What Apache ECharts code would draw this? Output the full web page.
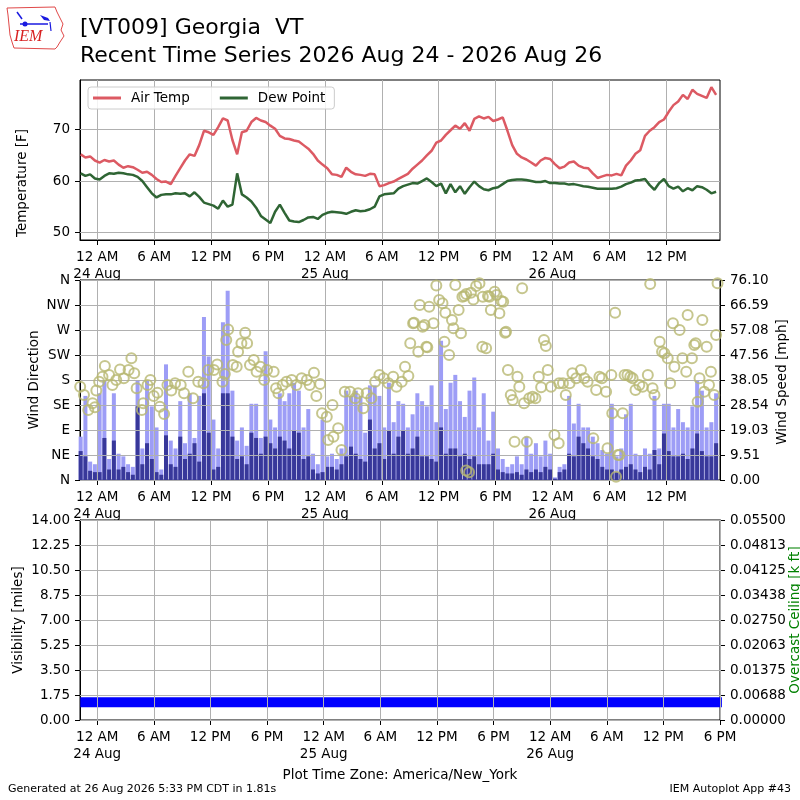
<!DOCTYPE html>
<html><head><meta charset="utf-8">
<script src="https://cdn.jsdelivr.net/npm/echarts@6/dist/echarts.min.js"></script>
<style>html,body{margin:0;padding:0;background:#fff}#c{width:800px;height:800px}</style>
</head><body><div id="c"></div>
<script>
// Observation grid: hours since 00:00 24 Aug (America/New_York), every 30 minutes
const startHour = -1.75;
const stepHour = 0.5;

const airTemp = [65.2,64.6,64.8,64.0,63.6,64.1,63.8,64.0,63.2,62.6,
62.9,62.7,62.2,61.6,61.8,61.2,60.4,59.8,59.9,59.4,
61.0,62.5,64.0,65.2,64.9,67.0,69.8,69.5,69.0,70.5,
72.2,71.8,68.0,65.2,69.5,69.8,71.5,72.3,71.8,71.5,
70.8,70.2,68.8,68.3,68.2,67.9,67.7,67.0,66.3,65.3,
64.0,63.2,62.5,61.3,61.2,60.8,62.6,61.8,61.3,61.2,
61.0,61.4,61.3,59.0,59.2,59.6,59.9,60.4,60.9,61.4,
62.4,63.2,64.0,65.0,65.9,67.5,67.9,69.0,69.9,70.8,
70.2,71.3,69.8,72.1,72.6,72.2,72.5,71.7,72.0,72.4,
69.8,67.0,65.3,64.6,64.2,63.6,63.0,64.0,64.5,64.3,
63.3,62.5,62.8,63.6,63.8,63.0,62.6,62.5,61.5,60.6,
60.9,61.2,61.1,61.4,61.1,63.0,64.0,65.3,66.0,68.8,
69.8,70.5,71.5,72.0,73.5,74.8,75.5,76.8,76.0,77.8,
77.0,76.6,76.2,78.3,76.8];

const dewPoint = [61.5,61.0,61.3,60.5,60.3,61.0,61.5,61.4,61.6,61.5,
61.3,61.2,60.8,60.0,58.8,57.6,56.8,57.3,57.4,57.4,
57.6,57.5,57.6,57.0,57.8,56.9,55.8,55.5,55.2,54.6,
56.2,55.0,55.4,61.5,57.4,56.8,56.0,54.8,53.2,52.5,
51.8,54.0,55.4,53.8,52.3,52.1,52.0,52.4,52.9,53.0,
52.6,53.4,53.8,54.0,53.9,53.8,53.6,54.0,54.3,54.1,
54.2,54.5,55.0,57.0,57.4,57.5,57.6,58.5,59.0,59.3,
59.6,59.5,60.0,60.5,59.8,59.0,59.5,57.6,59.4,57.8,
59.0,57.5,58.8,59.9,59.0,58.4,58.2,58.6,58.8,59.4,
60.0,60.2,60.3,60.3,60.2,60.0,59.8,59.8,60.0,59.6,
59.6,59.5,59.5,59.3,59.4,59.2,59.0,58.9,58.7,58.5,
58.5,58.5,58.5,58.6,58.9,59.4,59.7,60.1,60.2,60.4,
59.2,58.3,59.6,60.4,59.0,58.5,58.9,58.0,58.6,58.2,
59.0,58.8,58.3,57.6,57.9];

const windGust = [16.5,32,7,6,33,38,8,33,10,9,
6,5,38,12,38,28,20,4,44,15,
12,30,14,33,16,32,62,47,23,12,
60,72,34,15,20,13,29,29,16,49,
23,20,33,30,33,37,34,20,27,10,
6,23,9,10,8,12,34,32,34,32,
18,36,36,32,20,37,22,30,29,20,
25,33,30,28,36,22,53,27,37,40,
30,24,34,39,20,33,15,26,12,8,
5,6,9,6,16.5,10,14,9,15,10,
1,5,6,32,21.5,29,20,20,16.5,14,
11.4,10,29,9,12,25,29,10,9.5,12,
10,32,12,29,29,20,27,22,20,28,
38,34,20,22,33];

const windSpeed = [11,9,3.5,3,3,16,4,15,4,5,
3,2,28,6,14,8,3,2,17,6,
5,16.5,8,10,14,7,33,18,4,5,
33,33,16.5,8,9,6,18,16,10,16.5,
14,12,16.5,15,12,19,18,8,9,4,
2.5,3,5,5,4,6,9,12.7,10,8,
7,23,12,14,8,19,10,16.5,19,10,
12,16.5,9,9,8,7,20,10,12,12,
9,10,8,9,6,6,6,10,4,3,
2.5,2.5,3,2,4,3,4,3,5,4,
0.5,3,4,10,9,16.5,14,12,9,8,
5,4,4,3,4,5,6,4,3,5,
4,11.4,6,17.7,11,9,9,10,8,12,
17.7,11,9,9,14];

// Wind direction observations (hour, degrees)
const dirHour = [-1.8,-1.4,-0.95,-0.5,-0.25,-0.1,0.2,0.55,0.8,1.25,1.6,2.0,2.4,2.8,3.3,3.6,3.9,4.15,4.7,4.85,
5.3,5.6,5.95,6.35,6.6,7.05,7.4,7.8,8.2,8.8,9.15,9.6,10.1,10.65,11.2,11.7,12.3,12.65,13.2,13.45,
13.6,13.8,14.3,14.7,14.85,15.2,15.6,15.8,16.1,16.5,16.8,17.2,17.6,17.9,18.6,18.85,19.1,19.55,19.95,20.5,
21.0,21.55,22.1,22.4,22.85,23.1,23.5,23.7,24.2,24.8,24.35,24.9,25.4,25.75,26.1,26.65,27.2,27.5,28.05,28.4,
28.9,29.3,29.75,30.2,30.7,31.2,31.55,32.1,32.45,32.8,33.0,33.3,33.4,33.85,34.0,34.3,34.5,34.7,34.8,35.0,
35.45,35.75,36.05,36.4,36.6,36.7,37.1,37.4,37.55,37.75,38.1,38.35,38.5,38.7,38.9,38.9,39.2,39.4,39.65,39.95,
40.3,40.65,40.6,41.0,41.2,41.35,41.5,41.9,42.1,42.4,42.6,42.8,43.0,43.1,43.3,43.6,43.8,44.0,44.3,44.5,
44.8,45.0,45.3,45.55,45.9,46.2,46.55,46.8,47.1,47.3,47.5,47.85,48.2,48.65,48.7,49.1,49.4,49.8,50.1,50.5,
51.0,51.35,51.7,52.3,52.6,52.95,53.2,53.65,53.8,54.2,54.3,54.6,54.7,54.9,55.05,55.4,55.6,55.9,56.2,56.45,
56.75,57.15,57.5,58.05,58.3,58.55,58.75,59.3,59.55,59.8,60.15,60.4,60.7,60.85,61.4,61.7,62.1,62.25,62.7,62.95,
63.1,63.3,63.5,63.8,64.0,64.25,64.5,64.7,65.05,65.25,65.4];
const dirDeg = [168,153,126,138,131,161,177,186,205,189,171,180,199,183,198,219,192,165,126,138,
171,180,151,157,132,119,171,161,174,171,156,195,147,177,174,198,198,208,177,191,
252,271,207,204,231,246,265,246,207,216,195,204,180,198,195,165,156,171,177,180,
171,183,180,171,193,151,173,120,114,135,72,78,93,54,159,159,147,156,129,156,
147,177,189,183,174,186,168,177,204,187,246,282,283,231,315,276,279,240,239,312,
282,350,324,318,249,301,225,288,273,351,306,264,330,331,335,17,14,337,325,349,
354,330,240,237,331,330,306,339,333,300,322,321,265,267,198,153,144,69,186,168,
345,138,69,147,150,147,186,167,252,241,198,168,81,66,174,174,153,174,192,183,
198,183,177,75,162,186,183,159,57,189,120,301,6,45,45,120,189,189,186,183,
162,171,168,189,353,165,153,249,231,228,219,174,282,204,270,219,195,297,219,243,
246,141,183,288,159,240,171,195,153,261,354];

// Visibility (miles), hourly from visStart
const visStart = -1.8;
const visMiles = [1.25,1.25,1.25,1.25,1.25,1.25,1.25,1.25,1.25,1.25,
1.25,1.25,1.25,1.25,1.25,1.25,1.25,1.25,1.25,1.25,
1.25,1.25,1.25,1.25,1.25,1.25,1.25,1.25,1.25,1.25,
1.25,1.25,1.25,1.25,1.25,1.25,1.25,1.25,1.25,1.25,
1.25,1.25,1.25,1.25,1.25,1.25,1.25,1.25,1.25,1.25,
1.25,1.25,1.25,1.25,1.25,1.25,1.25,1.25,1.25,1.25,
1.25,1.25,1.25,1.25,1.25,1.25,1.25,1.25,1.25];

const tempTicks = [50,60,70];
const dirLabels = ['N','NE','E','SE','S','SW','W','NW','N'];
const speedStep = 9.5125;
const speedLabels = ['0.00','9.51','19.03','28.54','38.05','47.56','57.08','66.59','76.10'];
const visStep = 1.75;
const visLabels = ['0.00','1.75','3.50','5.25','7.00','8.75','10.50','12.25','14.00'];
const ceilLabels = ['0.00000','0.00688','0.01375','0.02063','0.02750','0.03438','0.04125','0.04813','0.05500'];
const timeTicks = [0,6,12,18,24,30,36,42,48,54,60];
const timeTicksBottom = [0,6,12,18,24,30,36,42,48,54,60,66];

const FONT = 'DejaVu Sans';
const obsHours = airTemp.map((_, i) => startHour + i * stepHour);
const pair = (vals) => vals.map((v, i) => [obsHours[i], v]);

function hourLabel(h) {
  const r = Math.round(h);
  const hh = ((r % 24) + 24) % 24;
  const day = 24 + Math.floor(r / 24);
  if (hh === 0) return '12 AM\n' + day + ' Aug';
  if (hh === 6) return '6 AM';
  if (hh === 12) return '12 PM';
  return '6 PM';
}
const lbl = { color: '#000', fontSize: 13.5, fontFamily: FONT };
const GRID_COLOR = '#b0b0b0';
function gridMarks(xs, ys, z) {
  return {
    silent: true, z: z, symbol: ['none', 'none'], animation: false,
    label: { show: false }, emphasis: { disabled: true },
    lineStyle: { type: 'solid', color: GRID_COLOR, width: 1 },
    data: xs.map(v => ({ xAxis: v })).concat(ys.map(v => ({ yAxis: v })))
  };
}
function xAxisCfg(gi, min, max, ticks) {
  return {
    type: 'value', gridIndex: gi, min: min, max: max,
    axisLine: { show: true, onZero: false, lineStyle: { color: '#000' } },
    axisTick: { show: true, customValues: ticks, length: 5, lineStyle: { color: '#000' } },
    axisLabel: Object.assign({ customValues: ticks, formatter: hourLabel, lineHeight: 17, margin: 9 }, lbl),
    splitLine: { show: false }
  };
}
function yAxisCfg(gi, extra) {
  return Object.assign({
    type: 'value', gridIndex: gi,
    axisLine: { show: true, onZero: false, lineStyle: { color: '#000' } },
    axisTick: { show: true, length: 5, lineStyle: { color: '#000' } },
    splitLine: { show: false }
  }, extra);
}

const option = {
  animation: false,
  backgroundColor: '#fff',
  grid: [
    { left: 80, top: 80, width: 640, height: 160, show: true, borderColor: '#000', borderWidth: 1, backgroundColor: 'transparent' },
    { left: 80, top: 280, width: 640, height: 200, show: true, borderColor: '#000', borderWidth: 1, backgroundColor: 'transparent' },
    { left: 80, top: 520, width: 640, height: 200, show: true, borderColor: '#000', borderWidth: 1, backgroundColor: 'transparent' }
  ],
  xAxis: [
    xAxisCfg(0, -1.82, 65.66, timeTicks),
    xAxisCfg(1, -1.82, 65.66, timeTicks),
    xAxisCfg(2, -1.83, 66, timeTicksBottom)
  ],
  yAxis: [
    yAxisCfg(0, { min: 48.5, max: 79.7,
      axisTick: { show: true, customValues: tempTicks, length: 5, lineStyle: { color: '#000' } },
      axisLabel: Object.assign({ customValues: tempTicks, margin: 10 }, lbl) }),
    yAxisCfg(1, { min: 0, max: 360, interval: 45,
      axisLabel: Object.assign({ margin: 10, formatter: v => dirLabels[Math.round(v / 45)] }, lbl) }),
    yAxisCfg(1, { position: 'right', min: 0, max: 76.1, interval: speedStep,
      axisLabel: Object.assign({ margin: 10, formatter: v => speedLabels[Math.round(v / speedStep)] }, lbl) }),
    yAxisCfg(2, { min: 0, max: 14, interval: visStep,
      axisLabel: Object.assign({ margin: 10, formatter: v => visLabels[Math.round(v / visStep)] }, lbl) }),
    yAxisCfg(2, { position: 'right', min: 0, max: 8, interval: 1,
      axisLabel: Object.assign({ margin: 10, formatter: v => ceilLabels[Math.round(v)] }, lbl) })
  ],
  legend: {
    data: ['Air Temp', 'Dew Point'], left: 88, top: 87, orient: 'horizontal',
    icon: 'rect', itemWidth: 28, itemHeight: 3, itemGap: 30,
    padding: [4, 9, 4, 5], borderColor: '#cccccc', borderWidth: 1, borderRadius: 3,
    backgroundColor: 'rgba(255,255,255,0.85)',
    textStyle: { color: '#000', fontSize: 13.5, fontFamily: FONT, padding: [0, 0, 0, 5] }
  },
  series: [
    { name: 'Air Temp', type: 'line', xAxisIndex: 0, yAxisIndex: 0, data: pair(airTemp), z: 2,
      symbol: 'none', lineStyle: { color: '#dc5a63', width: 2.5 }, itemStyle: { color: '#dc5a63' },
      markLine: gridMarks(timeTicks, tempTicks, 1) },
    { name: 'Dew Point', type: 'line', xAxisIndex: 0, yAxisIndex: 0, data: pair(dewPoint), z: 2,
      symbol: 'none', lineStyle: { color: '#2f6534', width: 2.5 }, itemStyle: { color: '#2f6534' } },
    { name: 'Gust', type: 'bar', xAxisIndex: 1, yAxisIndex: 2, data: pair(windGust), z: 2,
      barWidth: 4, itemStyle: { color: '#9d9df6' } },
    { name: 'Speed', type: 'bar', xAxisIndex: 1, yAxisIndex: 2, data: pair(windSpeed), z: 2,
      barWidth: 4, barGap: '-100%', itemStyle: { color: '#38389a' },
      markLine: gridMarks(timeTicks, speedLabels.map((_, k) => k * speedStep), 3) },
    { name: 'Direction', type: 'scatter', xAxisIndex: 1, yAxisIndex: 1, z: 5,
      data: dirHour.map((h, i) => [h, dirDeg[i]]),
      symbol: 'circle', symbolSize: 10,
      itemStyle: { color: 'rgba(0,0,0,0)', borderColor: '#b8b872', borderWidth: 2 } },
    { name: 'Visibility', type: 'line', xAxisIndex: 2, yAxisIndex: 3, z: 2,
      data: visMiles.map((v, i) => [visStart + i, v]),
      symbol: 'none', lineStyle: { color: '#0000ff', width: 10 },
      markLine: gridMarks(timeTicksBottom, visLabels.map((_, k) => k * visStep), 3) }
  ],
  graphic: [
    { type: 'polyline', shape: { points: [[7,8],[55,7],[57,12],[60,18],[63,24],[61,30],[64,36],[60,42],[57,47],[55,49],[14,48],[12,42],[10,35],[9,25],[8,15],[7,8]] },
      style: { stroke: '#e04848', lineWidth: 1, fill: 'none' } },
    { type: 'line', shape: { x1: 20, y1: 24, x2: 48, y2: 24 }, style: { stroke: '#1a1ae0', lineWidth: 1.5 } },
    { type: 'circle', shape: { cx: 25, cy: 24, r: 2.5 }, style: { fill: '#1a1ae0' } },
    { type: 'line', shape: { x1: 17, y1: 12, x2: 22, y2: 19 }, style: { stroke: '#1a1ae0', lineWidth: 1.5 } },
    { type: 'polygon', shape: { points: [[40,15],[48,18],[50,21],[44,20]] }, style: { fill: '#1a1ae0' } },
    { type: 'line', shape: { x1: 50, y1: 22, x2: 51, y2: 31 }, style: { stroke: '#1a1ae0', lineWidth: 1.2 } },
    { type: 'text', left: 14, top: 29, style: { text: 'IEM', fill: '#d82020', fontSize: 16, fontStyle: 'italic', fontFamily: 'Liberation Serif' } },
    { type: 'text', x: 80, y: 28, style: { text: '[VT009] Georgia  VT', fill: '#000', fontSize: 22, fontFamily: FONT, textVerticalAlign: 'middle' } },
    { type: 'text', x: 80, y: 56, style: { text: 'Recent Time Series 2026 Aug 24 - 2026 Aug 26', fill: '#000', fontSize: 22, fontFamily: FONT, textVerticalAlign: 'middle' } },
    { type: 'text', x: 22, y: 183, rotation: Math.PI / 2, style: { text: 'Temperature [F]', fill: '#000', fontSize: 13.5, fontFamily: FONT, textAlign: 'center', textVerticalAlign: 'middle' } },
    { type: 'text', x: 34, y: 380, rotation: Math.PI / 2, style: { text: 'Wind Direction', fill: '#000', fontSize: 13.5, fontFamily: FONT, textAlign: 'center', textVerticalAlign: 'middle' } },
    { type: 'text', x: 782, y: 382, rotation: Math.PI / 2, style: { text: 'Wind Speed [mph]', fill: '#000', fontSize: 13.5, fontFamily: FONT, textAlign: 'center', textVerticalAlign: 'middle' } },
    { type: 'text', x: 18, y: 620, rotation: Math.PI / 2, style: { text: 'Visibility [miles]', fill: '#000', fontSize: 13.5, fontFamily: FONT, textAlign: 'center', textVerticalAlign: 'middle' } },
    { type: 'text', x: 795, y: 620, rotation: Math.PI / 2, style: { text: 'Overcast Ceiling [k ft]', fill: '#008000', fontSize: 13.5, fontFamily: FONT, textAlign: 'center', textVerticalAlign: 'middle' } },
    { type: 'text', x: 400, y: 775, style: { text: 'Plot Time Zone: America/New_York', fill: '#000', fontSize: 13.5, fontFamily: FONT, textAlign: 'center', textVerticalAlign: 'middle' } },
    { type: 'text', x: 8, y: 789, style: { text: 'Generated at 26 Aug 2026 5:33 PM CDT in 1.81s', fill: '#000', fontSize: 11, fontFamily: FONT, textVerticalAlign: 'middle' } },
    { type: 'text', x: 791, y: 789, style: { text: 'IEM Autoplot App #43', fill: '#000', fontSize: 11, fontFamily: FONT, textAlign: 'right', textVerticalAlign: 'middle' } }
  ]
};
const chart = echarts.init(document.getElementById('c'), null, { renderer: 'canvas' });
chart.setOption(option);
</script></body></html>
